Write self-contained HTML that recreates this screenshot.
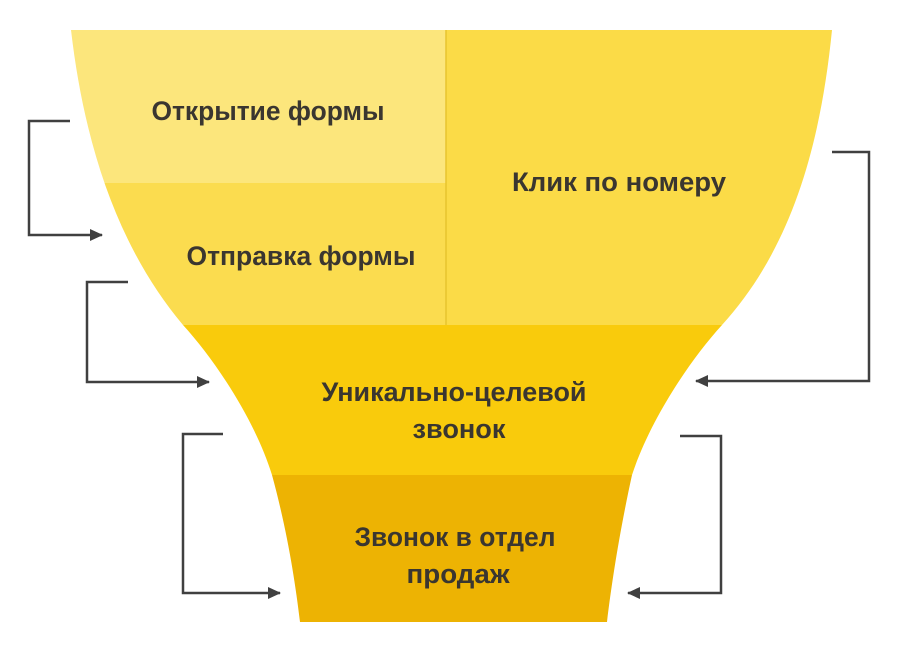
<!DOCTYPE html>
<html><head><meta charset="utf-8"><style>
html,body{margin:0;padding:0;background:#fff;}
svg{display:block}
text{font-family:"Liberation Sans","DejaVu Sans",sans-serif;font-weight:bold;font-size:27px;fill:#3a3630;text-anchor:middle}
</style></head><body>
<svg width="910" height="657" viewBox="0 0 910 657" xmlns="http://www.w3.org/2000/svg">
<defs>
<clipPath id="f">
<path d="M71,30 L832,30 C820,150 790,250 722,325 C690,360 650,420 632,475 C620,530 612,580 607,622 L300,622 C295,580 287,530 272,475 C255,420 215,360 183,325 C120,250 85,150 71,30 Z"/>
</clipPath>
<marker id="a" markerWidth="14" markerHeight="14" refX="12" refY="7" orient="auto" markerUnits="userSpaceOnUse">
<path d="M0,1 L13,7 L0,13 Z" fill="#404040"/>
</marker>
</defs>
<g clip-path="url(#f)">
<rect x="0" y="30" width="446" height="153" fill="#FCE67C"/>
<rect x="0" y="183" width="446" height="142" fill="#FBDC4F"/>
<rect x="446" y="30" width="464" height="295" fill="#FBDB47"/>
<rect x="0" y="325" width="910" height="150" fill="#F9CB0C"/>
<rect x="0" y="475" width="910" height="150" fill="#EDB303"/>
<line x1="446" y1="30" x2="446" y2="325" stroke="#E8C42E" stroke-width="1.5"/>
</g>
<text x="268" y="120" textLength="233" lengthAdjust="spacingAndGlyphs">Открытие формы</text>
<text x="301" y="265" textLength="229" lengthAdjust="spacingAndGlyphs">Отправка формы</text>
<text x="619" y="191" textLength="214" lengthAdjust="spacingAndGlyphs">Клик по номеру</text>
<text x="454" y="401" textLength="265" lengthAdjust="spacingAndGlyphs">Уникально-целевой</text>
<text x="459" y="438" textLength="93" lengthAdjust="spacingAndGlyphs">звонок</text>
<text x="455" y="546" textLength="201" lengthAdjust="spacingAndGlyphs">Звонок в отдел</text>
<text x="458" y="583" textLength="103" lengthAdjust="spacingAndGlyphs">продаж</text>
<g fill="none" stroke="#404040" stroke-width="2.5">
<path d="M70,121 H29 V235 H102" marker-end="url(#a)"/>
<path d="M128,282 H87 V382 H209" marker-end="url(#a)"/>
<path d="M832,152 H869 V381 H696" marker-end="url(#a)"/>
<path d="M223,434 H183 V593 H280" marker-end="url(#a)"/>
<path d="M680,436 H721 V593 H628" marker-end="url(#a)"/>
</g>
</svg>
</body></html>
